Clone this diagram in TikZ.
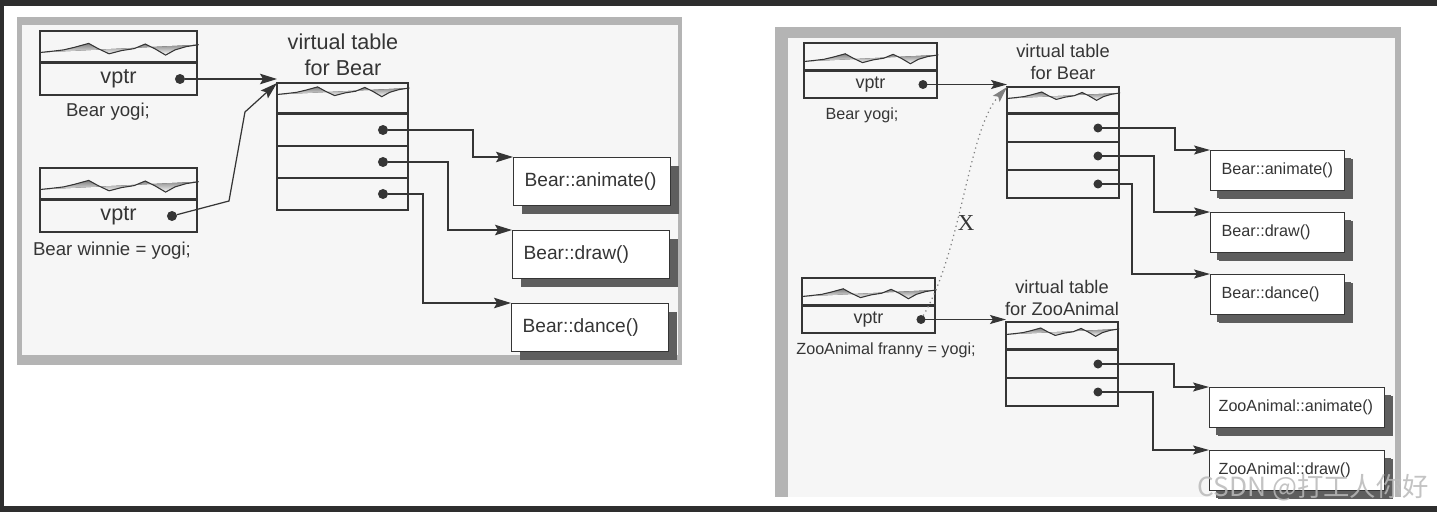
\documentclass[tikz,border=0pt]{standalone}
\usepackage{fontspec}
\setmainfont{Liberation Sans}
\newfontfamily\xfont{Liberation Serif}
\newfontfamily\cjk{Noto Sans CJK SC}
\usepackage{tikz}
\usetikzlibrary{arrows.meta,positioning,calc,shadows}
\definecolor{ink}{HTML}{353535}
\definecolor{panel}{HTML}{F6F6F6}
\definecolor{framec}{HTML}{B4B4B4}
\definecolor{shade}{HTML}{5E5E5E}
\definecolor{screen}{HTML}{2E2E2E}
\newcommand{\fsz}[2]{\fontsize{#1}{#2}\selectfont}
% wavy data line in a header cell: node, width (px), lift above bottom (px)
\newcommand{\squiggle}[3]{%
  \begin{scope}[shift={(#1.south west)}, shift={(0,-#3)}, xscale=#2/100, yscale=1.3*#2/157]
    \fill[shade, even odd rule] (0,0) -- (8,-1) -- (15,-2) -- (22,-4) -- (31,-7) -- (37,-3)
      -- (44,1) -- (52,-1.5) -- (60,-3) -- (67,-6.5) -- (73,-3) -- (80,2) -- (86,-2)
      -- (93,-4.5) -- (101,-6) -- cycle;
    \draw[line width=0.6pt] (0,0) -- (8,-1) -- (15,-2) -- (22,-4) -- (31,-7) -- (37,-3)
      -- (44,1) -- (52,-1.5) -- (60,-3) -- (67,-6.5) -- (73,-3) -- (80,2) -- (86,-2)
      -- (93,-4.5) -- (101,-6);
  \end{scope}}
\begin{document}
\begin{tikzpicture}[x=0.02cm, y=-0.02cm, color=ink, line width=0.7pt,
    >={Stealth[length=3.4mm, width=2.1mm, inset=0.6mm]},
    cell/.style={draw, fill=panel, inner sep=0pt, outer sep=0pt},
    hdL/.style={cell, anchor=north west, minimum width=3.14cm, minimum height=0.61cm},
    rowL/.style={cell, minimum width=3.14cm, minimum height=0.64cm, font=\fsz{12.3}{14}},
    slotL/.style={cell, minimum width=2.62cm, minimum height=0.64cm},
    hdR/.style={cell, anchor=north west, minimum width=2.66cm, minimum height=0.53cm},
    rowR/.style={cell, minimum width=2.66cm, minimum height=0.54cm, font=\fsz{10.2}{12}},
    slotR/.style={cell, minimum width=2.24cm, minimum height=0.56cm},
    dot/.style={circle, fill, inner sep=0pt, outer sep=0pt, minimum size=0.2cm},
    ttlL/.style={align=center, font=\fsz{12.3}{14.8}},
    ttlR/.style={align=center, font=\fsz{10.4}{12.4}},
    lblL/.style={font=\fsz{10.6}{12}},
    lblR/.style={font=\fsz{9.2}{11}},
    fnL/.style={draw, fill=white, anchor=north west, minimum width=3.14cm, minimum height=0.96cm,
      text width=2.70cm, inner xsep=0.22cm, inner ysep=0pt, align=left,
      font={\fsz{10.9}{12}\hyphenpenalty=10000},
      drop shadow={shadow xshift=0.16cm, shadow yshift=-0.16cm, fill=shade, opacity=1}},
    fnR/.style={fnL, minimum width=2.68cm, minimum height=0.8cm, text width=2.24cm,
      font={\fsz{9.2}{11}\hyphenpenalty=10000},
      drop shadow={shadow xshift=0.12cm, shadow yshift=-0.15cm, fill=shade, opacity=1}},
    faR/.style={fnR, minimum width=3.5cm, text width=3.14cm, inner xsep=0.18cm},
    arrR/.style={-{Stealth[length=3.2mm, width=1.8mm, inset=0.6mm]}}]
  % screenshot frame and the two scanned panels
  \fill[screen] (0,0) rectangle (1437,512);
  \fill[white] (4,6) rectangle (1437,506);
  \fill[framec] (17,17) rectangle (682,365);
  \fill[panel] (22,25) rectangle (678,355);
  \fill[framec] (775,27) rectangle (1401,497);
  \fill[panel] (788,38) rectangle (1395,497);
  \useasboundingbox (0,0) rectangle (1437,512);

  % ---- left: Bear yogi / Bear winnie ----
  \node[hdL] (yogihd) at (40,31) {};
  \node[rowL, below=0.03cm of yogihd] (yogi) {vptr};
  \node[dot] (yd) at ([xshift=-0.34cm]yogi.east) {};
  \node[lblL] (yogilbl) at (108,112) {Bear yogi;};
  \node[hdL] (winhd) at (40,168) {};
  \node[rowL, below=0.03cm of winhd] (winnie) {vptr};
  \node[dot] (wd) at ([xshift=-0.5cm]winnie.east) {};
  \node[lblL] (winlbl) at (112,251) {Bear winnie = yogi;};
  \node[hdL, minimum width=2.62cm, minimum height=0.59cm] (lvthd) at (277,83) {};
  \node[slotL, below=0.03cm of lvthd] (ls1) {};
  \node[slotL, below=0pt of ls1] (ls2) {};
  \node[slotL, below=0pt of ls2] (ls3) {};
  \node[ttlL] (lvtt) at (343,55) {virtual table\\for Bear};
  \foreach \i in {1,2,3}
    \node[dot] (lb\i) at ([xshift=-0.5cm]ls\i.east) {};
  \squiggle{yogihd}{157}{9}
  \squiggle{winhd}{157}{9}
  \squiggle{lvthd}{131}{18}
  \node[fnL] (lanim) at (513,157) {Bear::animate()};
  \node[fnL] (ldraw) at (512,230) {Bear::draw()};
  \node[fnL] (ldance) at (511,303) {Bear::dance()};
  \draw[->] (yd) -- (yd -| lvthd.north west);
  \draw[->] (wd) -- ++(57,-15) -- ++(16,-89) -- (lvthd.north west);
  \draw[->] (lb1) -- ++(90,0) |- (lanim.north west);
  \draw[->] (lb2) -- ++(65,0) |- (ldraw.north west);
  \draw[->] (lb3) -- ++(40,0) |- (ldance.north west);

  % ---- right: Bear yogi / ZooAnimal franny ----
  \node[hdR] (ryogihd) at (804,43) {};
  \node[rowR, below=0.03cm of ryogihd] (ryogi) {vptr};
  \node[dot, minimum size=0.18cm] (ryd) at ([xshift=-0.28cm]ryogi.east) {};
  \node[lblR] (ryogilbl) at (862,115) {Bear yogi;};
  \node[hdR, minimum width=2.24cm, minimum height=0.51cm] (rvthd) at (1007,87) {};
  \node[slotR, below=0.03cm of rvthd] (rs1) {};
  \node[slotR, below=0pt of rs1] (rs2) {};
  \node[slotR, below=0pt of rs2] (rs3) {};
  \node[ttlR] (rvtt) at (1063,62) {virtual table\\for Bear};
  \foreach \i in {1,2,3}
    \node[dot, minimum size=0.18cm] (rb\i) at ([xshift=-0.42cm]rs\i.east) {};
  \node[fnR] (ranim) at (1210,150) {Bear::animate()};
  \node[fnR] (rdraw) at (1210,212) {Bear::draw()};
  \node[fnR] (rdance) at (1210,274) {Bear::dance()};
  \node[hdR] (franhd) at (802,278) {};
  \node[rowR, below=0.03cm of franhd] (franny) {vptr};
  \node[dot, minimum size=0.18cm] (fd) at ([xshift=-0.28cm]franny.east) {};
  \node[lblR] (franlbl) at (886,350) {ZooAnimal franny = yogi;};
  \node[hdR, minimum width=2.24cm, minimum height=0.53cm] (zvthd) at (1006,322) {};
  \node[slotR, below=0.03cm of zvthd] (zs1) {};
  \node[slotR, below=0pt of zs1] (zs2) {};
  \node[ttlR] (zvtt) at (1062,298) {virtual table\\for ZooAnimal};
  \foreach \i in {1,2}
    \node[dot, minimum size=0.18cm] (zb\i) at ([xshift=-0.4cm]zs\i.east) {};
  \node[faR] (zanim) at (1209,387) {ZooAnimal::animate()};
  \node[faR] (zdraw) at (1209,450) {ZooAnimal::draw()};
  \squiggle{ryogihd}{133}{8}
  \squiggle{franhd}{133}{8}
  \squiggle{rvthd}{112}{14}
  \squiggle{zvthd}{112}{14}
  \draw[arrR] (ryd) -- (ryd -| rvthd.north west);
  \draw[arrR] (rb1) -- ++(77,0) |- (ranim.north west);
  \draw[arrR] (rb2) -- ++(56,0) |- (rdraw.north west);
  \draw[arrR] (rb3) -- ++(34,0) |- (rdance.north west);
  \draw[arrR] (fd) -- (fd -| zvthd.north west);
  \draw[arrR] (zb1) -- ++(76,0) |- (zanim.north west);
  \draw[arrR] (zb2) -- ++(55,0) |- (zdraw.north west);
  % the slice: franny's vptr may not point at Bear's table
  \draw[arrR, dotted, gray] (fd) .. controls (962,250) and (968,130) .. (rvthd.north west);
  \node[font=\xfont\fsz{13}{13}] (xmark) at (966,223) {X};

  \node[font=\cjk\fsz{15}{15}, text=gray!55, opacity=0.85] (csdn) at (1313,488) {CSDN @打工人你好};
\end{tikzpicture}
\end{document}
